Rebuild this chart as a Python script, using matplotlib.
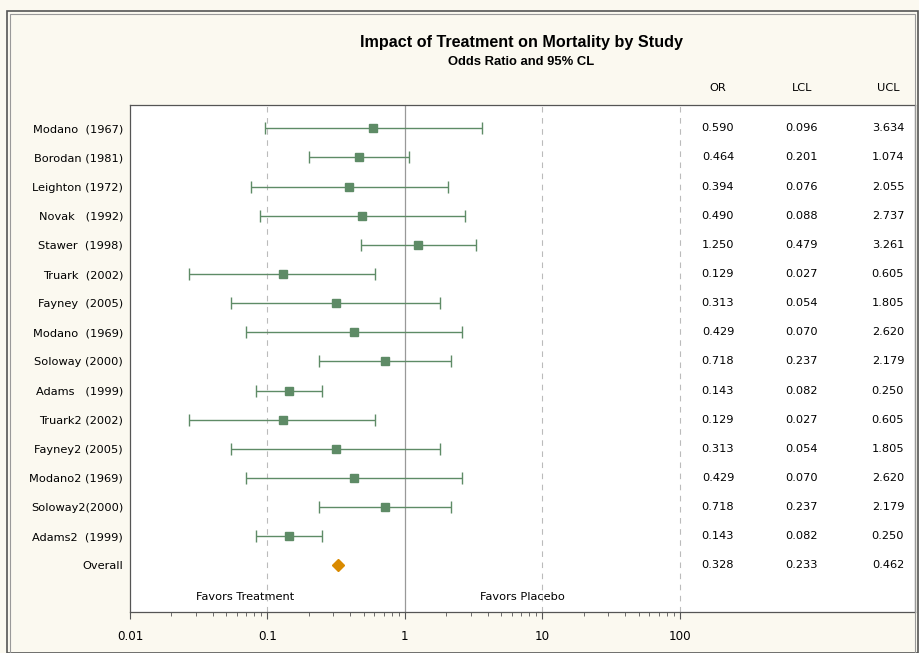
import matplotlib.pyplot as plt
from matplotlib.patches import Rectangle
import matplotlib.ticker as mticker

plt.rcParams['font.family'] = ['DejaVu Sans']

estudios = ['Modano  (1967)', 'Borodan (1981)', 'Leighton (1972)', 'Novak   (1992)',
            'Stawer  (1998)', 'Truark  (2002)', 'Fayney  (2005)', 'Modano  (1969)',
            'Soloway (2000)', 'Adams   (1999)', 'Truark2 (2002)', 'Fayney2 (2005)',
            'Modano2 (1969)', 'Soloway2(2000)', 'Adams2  (1999)', 'Overall']
OR = [0.590, 0.464, 0.394, 0.490, 1.250, 0.129, 0.313, 0.429,
      0.718, 0.143, 0.129, 0.313, 0.429, 0.718, 0.143, 0.328]
LCL = [0.096, 0.201, 0.076, 0.088, 0.479, 0.027, 0.054, 0.070,
       0.237, 0.082, 0.027, 0.054, 0.070, 0.237, 0.082, 0.233]
UCL = [3.634, 1.074, 2.055, 2.737, 3.261, 0.605, 1.805, 2.620,
       2.179, 0.250, 0.605, 1.805, 2.620, 2.179, 0.250, 0.462]

fondo = '#FBF9F0'
verde = '#5E8B66'
naranja = '#D98A00'
fs = 8.2

fig = plt.figure(figsize=(9.2, 6.53), dpi=100, facecolor=fondo)
ax = fig.add_axes([130 / 920, 1 - 612 / 653, 785 / 920, 507 / 653])

# borde doble alrededor de la figura
fig.patches.append(Rectangle((7 / 920, 0), 911 / 920, 1 - 11 / 653, transform=fig.transFigure,
                             fill=False, edgecolor='#555555', linewidth=1.2))
fig.patches.append(Rectangle((10 / 920, 0), 905 / 920, 1 - 14 / 653, transform=fig.transFigure,
                             fill=False, edgecolor='#999999', linewidth=0.8))

n = len(estudios)
y = list(range(1, n + 1))

# estudios individuales
for i in range(n - 1):
    ax.errorbar(OR[i], y[i], xerr=[[OR[i] - LCL[i]], [UCL[i] - OR[i]]], fmt='s',
                color=verde, ecolor=verde, elinewidth=1, capsize=4, capthick=1,
                markersize=6, zorder=3)
# total
ax.plot(OR[-1], y[-1], 'D', color=naranja, markersize=6, zorder=3)

ax.set_xscale('log')
ax.set_xlim(0.01, 10 ** 3.71)
ax.set_ylim(17.6, 0.2)

for v in [0.1, 10, 100]:
    ax.axvline(v, color='#BBBBBB', linestyle=(0, (5, 5)), linewidth=0.8, zorder=1)
ax.axvline(1, color='#999999', linewidth=0.9, zorder=1)

ax.set_yticks(y)
ax.set_yticklabels(estudios, fontsize=fs)
ax.tick_params(axis='y', length=0, pad=5)

ax.set_xticks([0.01, 0.1, 1, 10, 100])
ax.set_xticklabels(['0.01', '0.1', '1', '10', '100'], fontsize=8.6)
ax.xaxis.set_minor_locator(mticker.FixedLocator(
    [m * 10 ** e for e in range(-2, 2) for m in range(2, 10)]))
ax.xaxis.set_minor_formatter(mticker.NullFormatter())
ax.tick_params(axis='x', which='major', length=5, color='#555555', pad=8)
ax.tick_params(axis='x', which='minor', length=3, color='#555555')

for s in ax.spines.values():
    s.set_color('#555555')
    s.set_linewidth(0.9)

# columnas de la tabla
cols = [('OR', OR, 718), ('LCL', LCL, 802), ('UCL', UCL, 888)]
for nombre, vals, px in cols:
    xa = (px - 130) / 785
    ax.text(xa, 1 + 17 / 507, nombre, transform=ax.transAxes,
            ha='center', va='center', fontsize=fs)
    for yi, v in zip(y, vals):
        ax.text(xa, yi, f'{v:.3f}', transform=ax.get_yaxis_transform(),
                ha='center', va='center', fontsize=fs)

ax.text(0.0686, 17.1, 'Favors Treatment', ha='center', va='center', fontsize=fs)
ax.text(7.2, 17.1, 'Favors Placebo', ha='center', va='center', fontsize=fs)

fig.text(522 / 920, 1 - 42 / 653, 'Impact of Treatment on Mortality by Study',
         ha='center', va='center', fontsize=11.6, fontweight='bold',
         family='Liberation Sans')
fig.text(521 / 920, 1 - 62 / 653, 'Odds Ratio and 95% CL',
         ha='center', va='center', fontsize=9.4, fontweight='bold',
         family='Liberation Sans')

fig.savefig('out.png', dpi=100, facecolor=fondo)
